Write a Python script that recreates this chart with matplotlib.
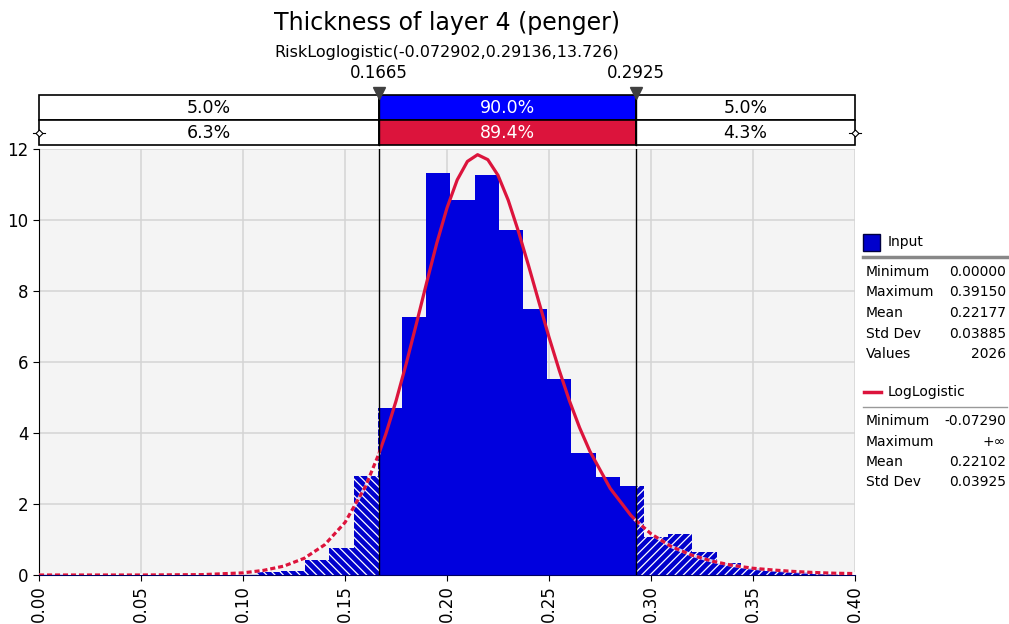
###########################################
# ----- Thickness of layer 4 histogram ----- #
###########################################
import numpy as np
import matplotlib
matplotlib.use("Agg")
from matplotlib import pyplot as plt
from matplotlib.patches import Rectangle

# ----- data ----- #
bin_lo = 0.0
bin_hi = 0.3915
n_bins = 33
density = [0.04, 0, 0, 0, 0, 0, 0, 0, 0, 0.08, 0.12, 0.42, 0.75, 2.79, 4.70, 7.28, 11.32,
	10.55, 11.28, 9.72, 7.50, 5.53, 3.45, 2.75, 2.50, 1.08, 1.15, 0.66, 0.35, 0.21, 0.12, 0.08, 0.04]

fit_x = [0.00, 0.05, 0.08, 0.10, 0.11, 0.12, 0.13, 0.14, 0.15, 0.16, 0.1665, 0.17, 0.175, 0.18,
	0.185, 0.19, 0.195, 0.20, 0.205, 0.21, 0.215, 0.22, 0.225, 0.23, 0.235, 0.24, 0.245,
	0.25, 0.255, 0.26, 0.265, 0.27, 0.28, 0.29, 0.2925, 0.30, 0.31, 0.32, 0.33, 0.34, 0.35,
	0.36, 0.37, 0.38, 0.39, 0.40]
fit_y = [0.00, 0.00, 0.01, 0.06, 0.13, 0.25, 0.47, 0.85, 1.48, 2.49, 3.40, 3.97, 4.90, 5.95,
	7.08, 8.23, 9.35, 10.34, 11.13, 11.65, 11.84, 11.70, 11.26, 10.56, 9.68, 8.71, 7.70,
	6.70, 5.77, 4.91, 4.15, 3.49, 2.44, 1.69, 1.54, 1.16, 0.80, 0.56, 0.39, 0.27, 0.19,
	0.14, 0.10, 0.07, 0.05, 0.04]

lower = 0.1665
upper = 0.2925
band_input = ["5.0%", "90.0%", "5.0%"]
band_fit = ["6.3%", "89.4%", "4.3%"]

input_stats = [("Minimum", "0.00000"), ("Maximum", "0.39150"), ("Mean", "0.22177"),
	("Std Dev", "0.03885"), ("Values", "2026")]
fit_stats = [("Minimum", "-0.07290"), ("Maximum", "+\u221e"), ("Mean", "0.22102"),
	("Std Dev", "0.03925")]

title = "Thickness of layer 4 (penger)"
subtitle = "RiskLoglogistic(-0.072902,0.29136,13.726)"

BLUE = "#0000DE"
HATCH_BLUE = "#0000CC"
RED = "#DC143C"

###########################################
W, H = 1009, 624
def fx(px):
	return px / W
def fy(py):
	return 1 - py / H

plt.rcParams['font.family'] = ['DejaVu Sans']
plt.rcParams['hatch.linewidth'] = 0.9
fig = plt.figure(figsize=(W / 100, H / 100), dpi=100)

# ----- main axes ----- #
ax = fig.add_axes([fx(39), fy(575), fx(855) - fx(39), fy(149) - fy(575)])
ax.set_facecolor("#F4F4F4")
ax.set_xlim(0, 0.4)
ax.set_ylim(0, 12)
ax.set_xticks(np.arange(0, 0.401, 0.05))
ax.set_xticklabels(["%.2f" % t for t in np.arange(0, 0.401, 0.05)], rotation=90, fontsize=12)
ax.set_yticks(range(0, 13, 2))
ax.tick_params(axis='y', labelsize=12, length=4)
ax.tick_params(axis='x', length=4)
ax.grid(True, color="#D4D4D4", lw=1.1)
ax.set_axisbelow(True)
for s in ["top", "right"]:
	ax.spines[s].set_visible(False)
ax.spines["left"].set_color("black")
ax.spines["bottom"].set_color("#000060")

edges = np.linspace(bin_lo, bin_hi, n_bins + 1)
bw = edges[1] - edges[0]

# ----- solid bars inside the band ----- #
mid_clip = Rectangle((lower, 0), upper - lower, 13, transform=ax.transData)
bars = ax.bar(edges[:-1], density, width=bw, align='edge', color=BLUE, lw=0, zorder=2)
for b in bars:
	b.set_clip_path(mid_clip)

# ----- hatched bars outside ----- #
left_clip = Rectangle((0, 0), lower, 13, transform=ax.transData)
right_clip = Rectangle((upper, 0), 0.4 - upper, 13, transform=ax.transData)
bars = ax.bar(edges[:-1], density, width=bw, align='edge', color=HATCH_BLUE,
	edgecolor="white", lw=0, hatch="\\\\\\\\", zorder=2)
for b in bars:
	b.set_clip_path(left_clip)
bars = ax.bar(edges[:-1], density, width=bw, align='edge', color=HATCH_BLUE,
	edgecolor="white", lw=0, hatch="////", zorder=2)
for b in bars:
	b.set_clip_path(right_clip)

# ----- fitted curve: solid in the middle, dotted tails ----- #
fx_arr = np.array(fit_x)
fy_arr = np.array(fit_y)
inside = (fx_arr >= lower) & (fx_arr <= upper)
ax.plot(fx_arr[inside], fy_arr[inside], color=RED, lw=2.3, zorder=4, solid_capstyle='butt')
for m in [fx_arr <= lower, fx_arr >= upper]:
	ax.plot(fx_arr[m], fy_arr[m], color="white", lw=2.3, zorder=4, alpha=0.8)
	ax.plot(fx_arr[m], fy_arr[m], color=RED, lw=2.3, zorder=5, dashes=(1.6, 0.9))

for v in [lower, upper]:
	ax.axvline(v, color="black", lw=1, zorder=6)

# ----- band boxes above the axes ----- #
bax = fig.add_axes([fx(39), fy(145), fx(855) - fx(39), fy(95) - fy(145)])
bax.set_xlim(0, 0.4)
bax.set_ylim(0, 2)
bax.axis("off")
spans = [(0, lower), (lower, upper), (upper, 0.4)]
for row, labels, mid_col in [(1, band_input, "#0000FF"), (0, band_fit, RED)]:
	for i, (a, b) in enumerate(spans):
		fc = mid_col if i == 1 else "white"
		tc = "white" if i == 1 else "black"
		bax.add_patch(Rectangle((a, row), b - a, 1, facecolor=fc, edgecolor="black", lw=1.2,
			clip_on=False))
		bax.text((a + b) / 2, row + 0.48, labels[i], ha='center', va='center', fontsize=12.5,
			color=tc)
for v in [lower, upper]:
	bax.plot([v, v], [0, 2], color="black", lw=1, clip_on=False)
	bax.plot([v], [2.08], marker='v', ms=8, color="#404040", clip_on=False, zorder=8)
	bax.text(v, 2.5, "%.4f" % v, ha='center', va='bottom', fontsize=12)
for xv, side in [(0, -1), (0.4, 1)]:
	bax.plot([xv], [0.5], marker='D', ms=3.5, mfc="white", mec="black", mew=0.8,
		clip_on=False, zorder=8)
	bax.plot([xv - 0.003, xv + 0.003], [0.5, 0.5], color="black", lw=0.8, clip_on=False)

# ----- titles ----- #
fig.text(fx(447), fy(23), title, ha='center', va='center', fontsize=17)
fig.text(fx(447), fy(53), subtitle, ha='center', va='center', fontsize=11.5)

# ----- stats panel ----- #
fig.patches.append(Rectangle((fx(863), fy(251)), fx(880) - fx(863), fy(234) - fy(251),
	facecolor="#0000CC", edgecolor="#000040", lw=1, transform=fig.transFigure))
fig.text(fx(888), fy(242), "Input", ha='left', va='center', fontsize=10)
fig.add_artist(plt.Line2D([fx(863), fx(1007)], [fy(257), fy(257)], color="#888888", lw=2.5))
y = 272
for k, v in input_stats:
	fig.text(fx(866), fy(y), k, ha='left', va='center', fontsize=10)
	fig.text(fx(1006), fy(y), v, ha='right', va='center', fontsize=10)
	y += 20.5

fig.add_artist(plt.Line2D([fx(864), fx(881)], [fy(392), fy(392)], color=RED, lw=2.5))
fig.text(fx(888), fy(392), "LogLogistic", ha='left', va='center', fontsize=10)
fig.add_artist(plt.Line2D([fx(863), fx(1007)], [fy(407), fy(407)], color="#999999", lw=1))
y = 421
for k, v in fit_stats:
	fig.text(fx(866), fy(y), k, ha='left', va='center', fontsize=10)
	fig.text(fx(1006), fy(y), v, ha='right', va='center', fontsize=10)
	y += 20.5

fig.savefig("out.png", dpi=100)
